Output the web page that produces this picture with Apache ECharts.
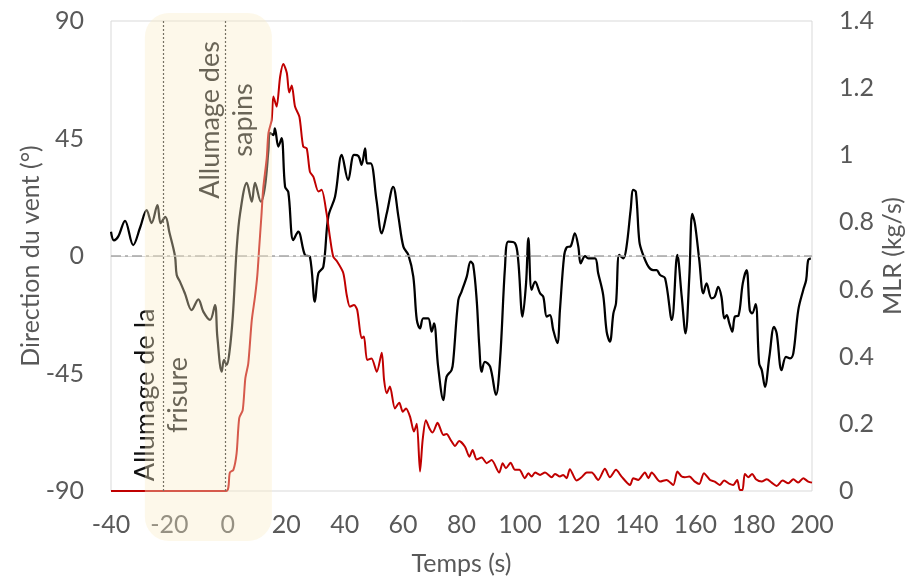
<!DOCTYPE html>
<html>
<head>
<meta charset="utf-8">
<script src="https://cdn.jsdelivr.net/npm/echarts@6/dist/echarts.min.js"></script>
<style>
  html, body { margin: 0; padding: 0; background: #ffffff; }
  #chart { width: 910px; height: 579px; }
</style>
</head>
<body>
<div id="chart"></div>
<script>
// Wind direction (°) over time (s)
const windTime = [
  -40, -39, -37.5, -35.2, -32.4, -30, -27.8, -26.1, -24.1, -23, -21.4, -20, -18.1, -17.5, -16.4, -14.7,
  -12.4, -10.1, -8.4, -6.1, -4.4, -3.6, -2.1, -1.3, -0.4, 0.5, 1.7, 3.0, 4.2, 6.5, 8.2, 9.3,
  11.3, 12.7, 13.9, 14.4, 15.6, 16.1, 17.3, 18.4, 19.6, 20.7, 22.4, 24.1, 26.4, 28.1, 29.8, 31,
  32.7, 34.4, 36.7, 39, 41.2, 43.2, 44.7, 45.8, 47, 47.7, 48.9, 50.9, 52.7, 54.4, 56.6, 58.4,
  60.1, 61.8, 63.5, 64.7, 65.8, 66.9, 68.6, 69.8, 70.6, 72, 73.8, 74.9, 76.6, 77.2, 78.9, 80,
  81.8, 83.1, 84, 85.2, 86.1, 86.9, 88, 89.8, 91.8, 93.2, 94.9, 96, 98.3, 99.4, 100.9, 102.1,
  102.9, 104, 105.2, 106.9, 108, 109.2, 110.3, 111.4, 112.8, 113.7, 115.1, 116, 117.4, 118.8, 120, 120.8,
  122.3, 123.4, 125.7, 126.8, 128.5, 129.7, 130.8, 132, 132.9, 134, 135.4, 136.5, 137.9, 138.8, 139.7, 140.9,
  142, 144, 145.6, 146.8, 148, 149.7, 152, 153.9, 155.4, 156.7, 158, 159, 159.9, 161.4, 162.8, 163.9,
  165.6, 166.7, 167.9, 169, 170, 170.8, 171.7, 172.7, 173.6, 174.8, 176.3, 177.6, 178.7, 179.5, 180.7, 181.9,
  182.8, 183.9, 185.4, 187, 187.9, 189.6, 191.1, 192.5, 193.6, 195.3, 197, 198, 198.7, 199.6
];
const windDir = [
  9.3, 6, 7.5, 13.5, 4.2, 11, 17.6, 12.6, 19.5, 12.6, 15, 9, 0, -7.3, -9.8, -14.3,
  -20.7, -16.6, -21.3, -24.5, -18.8, -30.9, -44.3, -39.8, -41.7, -37.3, -23.2, 2.3, 16.3, 28, 20.8, 28,
  20.8, 26.5, 40.6, 47.2, 46.3, 48.9, 41.9, 45.1, 26.5, 24.5, 6.1, 9.3, 0.4, -0.3, -17.5, -6.6,
  -4.1, 15.1, 22.7, 38.7, 29.1, 38.7, 38.3, 34.9, 41.2, 35.5, 35.5, 21.4, 8.7, 16.3, 26.5, 15.1,
  3.6, 0.4, -7.9, -24.5, -27.7, -23.9, -23.9, -29, -25.8, -42.4, -55.2, -46.2, -43.7, -39.8, -16.9, -13.7,
  -7.9, -2.2, -3.4, -16.9, -34.7, -44.3, -40.5, -42.4, -53.2, -39.8, -4.1, 5.5, 4.9, -1.5, -23.2, -10.5,
  6.8, -13, -9.8, -14.3, -15.6, -23.2, -22.6, -28.3, -33.4, -20.7, -0.3, 3.3, 3.8, 8.7, 3.6, -2.8,
  0, -0.9, -0.9, -6.6, -14.9, -29, -32.8, -22, -18.1, 0.4, -0.9, 3.6, 17.6, 25.3, 24.6, 5.5,
  1, -4.1, -5.4, -5.4, -7.3, -8.5, -24.5, 0.4, -15.6, -29.6, -7.9, 16.1, 12.5, -1.5, -14.3, -10.5,
  -16.2, -15.6, -11.8, -15.6, -23.9, -22.6, -25.8, -29, -23.2, -22.9, -10.5, -5.4, -20.7, -22, -18.4, -41.1,
  -43.7, -50.1, -38.6, -27.1, -29.6, -43.7, -38.6, -39.2, -37.3, -20.7, -13, -9.2, -1.5, -0.9
];

// Mass loss rate (kg/s) over time (s)
const mlrTime = [
  -40, -0.6, 0.7, 1.9, 3, 3.9, 5.1, 6, 7, 8.2, 9.3, 10.1, 10.7, 11.5, 12.1, 13.3,
  13.9, 15, 15.6, 16.7, 17.9, 19, 20.2, 21, 21.9, 23, 24.5, 25.8, 27, 28.1, 29.3, 31,
  32.1, 33.8, 35, 36.1, 37.3, 39.5, 40.7, 41.8, 43.2, 44.3, 45.8, 46.6, 47.7, 49.2, 51, 52.7,
  53.5, 54.4, 55.5, 57.2, 58.7, 59.9, 61, 62.4, 63.7, 64.7, 65.8, 66.7, 67.8, 69, 70.1, 71.8,
  73.8, 74.9, 76.3, 77.8, 79.2, 81.2, 82.7, 83.8, 85.2, 86.9, 88.6, 90.3, 92.9, 94.1, 95.2, 96.8,
  98.3, 99.8, 101.7, 102.9, 104, 105.2, 106.9, 108.6, 110.9, 112, 113.7, 114.8, 116, 117.1, 119.4, 121,
  122.9, 124.6, 126.8, 129.1, 130.8, 132.9, 134.8, 137.7, 138.8, 140.5, 142.8, 144, 145.1, 148, 150.2, 152.5,
  153.9, 155.4, 156.5, 158, 159.9, 161.4, 163, 165.1, 166.7, 168.4, 169.9, 171.8, 173, 174.4, 175.3, 176.2,
  177, 178.2, 179.5, 180.8, 182.8, 184.5, 186.2, 187.9, 189.9, 191.9, 193.6, 195.3, 197, 198.7, 200
];
const mlrValue = [
  0, 0, 0.055, 0.063, 0.112, 0.217, 0.241, 0.336, 0.38, 0.509, 0.579, 0.643, 0.72, 0.82, 0.9, 0.99,
  1.066, 1.105, 1.175, 1.145, 1.234, 1.272, 1.245, 1.187, 1.208, 1.145, 1.115, 1.026, 1.021, 0.951, 0.936, 0.892,
  0.897, 0.827, 0.753, 0.698, 0.685, 0.65, 0.584, 0.549, 0.554, 0.539, 0.455, 0.46, 0.39, 0.395, 0.355, 0.412,
  0.33, 0.291, 0.311, 0.246, 0.263, 0.236, 0.246, 0.221, 0.177, 0.2, 0.058, 0.152, 0.211, 0.187, 0.174, 0.203,
  0.167, 0.17, 0.152, 0.134, 0.149, 0.132, 0.102, 0.122, 0.094, 0.1, 0.083, 0.092, 0.055, 0.083, 0.068, 0.084,
  0.063, 0.063, 0.038, 0.053, 0.043, 0.055, 0.048, 0.055, 0.041, 0.051, 0.043, 0.048, 0.038, 0.065, 0.031, 0.04,
  0.055, 0.055, 0.033, 0.066, 0.041, 0.063, 0.043, 0.018, 0.038, 0.033, 0.055, 0.038, 0.055, 0.028, 0.033, 0.018,
  0.058, 0.043, 0.041, 0.043, 0.028, 0.021, 0.053, 0.033, 0.028, 0.018, 0.031, 0.021, 0.018, 0.033, 0.003, 0.003,
  0.051, 0.041, 0.051, 0.035, 0.028, 0.035, 0.025, 0.015, 0.031, 0.023, 0.035, 0.025, 0.038, 0.028, 0.025
];

// Ignition events (s) and their captions
const eventTimes = [-22, -1];
const eventCaptions = ['Allumage de la\nfrisure', 'Allumage des\nsapins'];
const captionAnchors = [[-22.7, -53.2], [-0.5, 52.1]];   // [time, direction] of caption centres

// Highlighted ignition phase (s)
const phaseStart = -28.4;
const phaseEnd = 15.1;

const FONT = 'Lato, "Open Sans", sans-serif';
const TEXT_GREY = '#595959';
const FS = 25;

const chart = echarts.init(document.getElementById('chart'), null, { renderer: 'canvas' });

const pairs = (xs, ys) => xs.map((x, i) => [x, ys[i]]);

chart.setOption({
  animation: false,
  backgroundColor: '#ffffff',
  textStyle: { fontFamily: FONT },
  grid: {
    left: 111, right: 98, top: 21, bottom: 88,
    outerBoundsMode: 'none', containLabel: false,
    show: true, borderColor: '#D9D9D9', borderWidth: 1, backgroundColor: 'transparent'
  },
  xAxis: {
    type: 'value', min: -40, max: 200, interval: 20,
    name: 'Temps (s)', nameLocation: 'middle', nameGap: 60,
    nameTextStyle: { color: TEXT_GREY, fontSize: FS, fontFamily: FONT },
    axisLine: { show: true, lineStyle: { color: '#D9D9D9', width: 1 } },
    axisTick: { show: false },
    splitLine: { show: false },
    axisLabel: { color: TEXT_GREY, fontSize: FS, fontFamily: FONT, margin: 21 }
  },
  yAxis: [
    {
      type: 'value', min: -90, max: 90, interval: 45,
      name: 'Direction du vent (°)', nameLocation: 'middle', nameGap: 68, nameRotate: 90,
      nameMoveOverlap: false,
      nameTextStyle: { color: TEXT_GREY, fontSize: FS, fontFamily: FONT },
      axisLine: { show: false }, axisTick: { show: false }, splitLine: { show: false },
      axisLabel: { color: TEXT_GREY, fontSize: FS, fontFamily: FONT, margin: 27 }
    },
    {
      type: 'value', min: 0, max: 1.4, interval: 0.2, position: 'right',
      name: 'MLR (kg/s)', nameLocation: 'middle', nameGap: 68, nameRotate: 90,
      nameMoveOverlap: false,
      nameTextStyle: { color: TEXT_GREY, fontSize: FS, fontFamily: FONT },
      axisLine: { show: false }, axisTick: { show: false }, splitLine: { show: false },
      axisLabel: { color: TEXT_GREY, fontSize: FS, fontFamily: FONT, margin: 27,
        formatter: v => String(Math.round(v * 10) / 10) }
    }
  ],
  series: [
    {
      name: 'Direction du vent',
      type: 'line', yAxisIndex: 0,
      data: pairs(windTime, windDir),
      showSymbol: false, smooth: 0.35,
      lineStyle: { color: '#000000', width: 2.25 },
      z: 3,
      markLine: {
        silent: true, symbol: 'none', animation: false,
        label: { show: false },
        data: [
          { yAxis: 0, lineStyle: { color: '#A6A6A6', width: 1.5, type: [10, 4, 3, 4] } },
          ...eventTimes.map(t => ({ xAxis: t, lineStyle: { color: '#262626', width: 1.2, type: [2, 2] } }))
        ]
      }
    },
    {
      name: 'MLR',
      type: 'line', yAxisIndex: 1,
      data: pairs(mlrTime, mlrValue),
      showSymbol: false, smooth: 0.25,
      lineStyle: { color: '#C00000', width: 2 },
      z: 4
    }
  ]
});

// Captions and the translucent phase band, placed in axis coordinates
function placeOverlays() {
  const grid = chart.getModel().getComponent('grid').coordinateSystem.getRect();
  const x0 = chart.convertToPixel({ xAxisIndex: 0 }, phaseStart);
  const x1 = chart.convertToPixel({ xAxisIndex: 0 }, phaseEnd);
  const captions = eventCaptions.map((text, i) => {
    const p = chart.convertToPixel({ xAxisIndex: 0, yAxisIndex: 0 }, captionAnchors[i]);
    return {
      type: 'text', x: p[0], y: p[1], rotation: Math.PI / 2, z: 50,
      style: {
        text, x: 0, y: 0, align: 'center', verticalAlign: 'middle',
        fill: '#111111', font: '27px ' + FONT, lineHeight: 33
      }
    };
  });
  chart.setOption({
    graphic: [
      ...captions,
      {
        type: 'rect', z: 100, silent: true,
        shape: { x: x0, y: grid.y - 8, width: x1 - x0, height: grid.height + 58, r: 24 },
        style: { fill: 'rgba(250, 236, 200, 0.38)' }
      }
    ]
  });
}
placeOverlays();
</script>
</body>
</html>
